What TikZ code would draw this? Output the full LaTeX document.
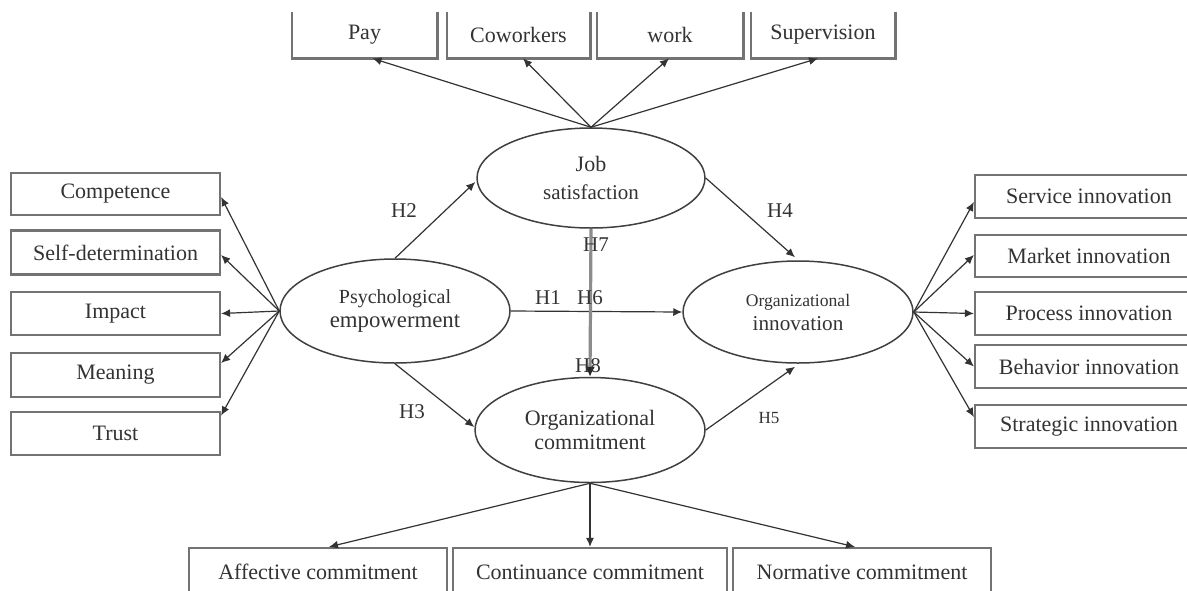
\documentclass[tikz,border=0pt]{standalone}
\usepackage{fontspec}
\setmainfont{Liberation Serif}
\usetikzlibrary{shapes.geometric,arrows.meta,calc}
\begin{document}
\begin{tikzpicture}[x=0.5pt,y=-0.5pt,
  every node/.style={text=black!80},
  box/.style={draw=black!55,line width=1.1pt,rectangle,inner sep=0pt,font=\fontsize{11}{13}\selectfont},
  openbox/.style={rectangle,inner sep=0pt,font=\fontsize{11}{13}\selectfont},
  boxline/.style={draw=black!55,line width=1.1pt},
  latent/.style={draw=black!75,line width=0.75pt,ellipse,inner sep=0pt,align=center},
  arr/.style={draw=black!80,line width=0.6pt,-{Latex[length=4.5pt,width=4pt]}},
  thickarr/.style={draw=black!45,line width=1.6pt,-{Latex[length=5pt,width=5pt,color=black!85]}},
  hyp/.style={font=\fontsize{10.5}{12}\selectfont,inner sep=0pt},
  hypsmall/.style={font=\fontsize{8.5}{10}\selectfont,inner sep=0pt},
]
\useasboundingbox (0,0) rectangle (1187,590);
\clip (0,0) rectangle (1187,590);
\fill[white] (0,0) rectangle (1187,590);

% latent variables
\node[latent,minimum width=114pt,minimum height=50pt] (job) at (591,178)
  {{\fontsize{11}{14}\selectfont Job}\\[2pt]{\fontsize{10.5}{13}\selectfont satisfaction}};
\node[latent,minimum width=115pt,minimum height=52pt] (psy) at (395,311)
  {{\fontsize{10}{12.5}\selectfont Psychological}\\{\fontsize{11.4}{12.5}\selectfont empowerment}};
\node[latent,minimum width=115pt,minimum height=51pt] (inn) at (798,312)
  {{\fontsize{8.8}{12.5}\selectfont Organizational}\\{\fontsize{10.6}{12.5}\selectfont innovation}};
\node[latent,minimum width=115pt,minimum height=52.5pt] (com) at (590,430)
  {{\fontsize{11}{13}\selectfont Organizational}\\{\fontsize{11}{13}\selectfont commitment}};

% top boxes (open at top)
\node[openbox,minimum width=72.5pt,minimum height=23pt] (pay) at (364.5,35) {Pay};
\node[openbox,minimum width=71.5pt,minimum height=23pt] (cow) at (518.5,35) {Coworkers};
\node[openbox,minimum width=73pt,minimum height=23pt] (wrk) at (670,35) {work};
\node[openbox,minimum width=72pt,minimum height=23pt] (sup) at (823,35) {Supervision};
\foreach \b in {pay,cow,wrk,sup}{
  \draw[boxline] (\b.north west) -- (\b.south west) -- (\b.south east) -- (\b.north east);
}

% left boxes
\node[box,minimum width=104.5pt,minimum height=21pt] (cmp) at (115.5,194) {Competence};
\node[box,minimum width=104.5pt,minimum height=22pt] (sdt) at (115.5,252.5) {Self-determination};
\node[box,minimum width=104.5pt,minimum height=21.5pt] (imp) at (115.5,313.5) {Impact};
\node[box,minimum width=104.5pt,minimum height=22pt] (mea) at (115.5,375) {Meaning};
\node[box,minimum width=104.5pt,minimum height=21.5pt] (tru) at (115.5,433.5) {Trust};

% right boxes
\node[box,minimum width=114pt,minimum height=21.5pt] (ser) at (1089,196.5) {Service innovation};
\node[box,minimum width=114pt,minimum height=21pt] (mar) at (1089,256) {Market innovation};
\node[box,minimum width=114pt,minimum height=21.5pt] (pro) at (1089,313.5) {Process innovation};
\node[box,minimum width=114pt,minimum height=21.5pt] (beh) at (1089,366.5) {Behavior innovation};
\node[box,minimum width=114pt,minimum height=21.5pt] (str) at (1089,426.5) {Strategic innovation};

% bottom boxes
\node[box,minimum width=129pt,minimum height=24pt] (aff) at (318,572) {Affective commitment};
\node[box,minimum width=137pt,minimum height=24pt] (con) at (590,572) {Continuance commitment};
\node[box,minimum width=129pt,minimum height=24pt] (nor) at (862,572) {Normative commitment};

% indicator arrows: job satisfaction
\draw[arr] (job.north) -- ($(pay.south)+(8,0)$);
\draw[arr] (job.north) -- ($(cow.south)+(4.5,0)$);
\draw[arr] (job.north) -- ($(wrk.south)+(-1,0)$);
\draw[arr] (job.north) -- ($(sup.south)+(-5,0)$);

% indicator arrows: psychological empowerment
\draw[arr] (psy.west) -- ($(cmp.east)+(0,3)$);
\draw[arr] (psy.west) -- ($(sdt.east)+(0,2.5)$);
\draw[arr] (psy.west) -- (imp.east);
\draw[arr] (psy.west) -- ($(mea.east)+(0,-12)$);
\draw[arr] (psy.west) -- ($(tru.east)+(0,-18)$);

% indicator arrows: organizational innovation
\draw[arr] (inn.east) -- ($(ser.west)+(0,5.5)$);
\draw[arr] (inn.east) -- ($(mar.west)+(0,-1)$);
\draw[arr] (inn.east) -- (pro.west);
\draw[arr] (inn.east) -- (beh.west);
\draw[arr] (inn.east) -- ($(str.west)+(0,-9.5)$);

% indicator arrows: organizational commitment
\draw[arr] (com.south) -- ($(aff.north)+(11,0)$);
\draw[arr] (com.south) -- (con.north);
\draw[arr] (com.south) -- ($(nor.north)+(-7,0)$);

% structural paths
\draw[arr] (psy.east) -- (inn.west);
\draw[arr] (psy.north) -- ($(job.west)+(-1,4)$);
\draw[arr] (psy.south) -- ($(com.west)+(0,-3)$);
\draw[arr] (job.east) -- ($(inn.north)+(-3,-3)$);
\draw[arr] (com.east) -- ($(inn.south)+(-3,3)$);
\draw[thickarr] (job.south) -- (com.north);

% hypothesis labels
\node[hyp] (h1) at (548,298) {H1};
\node[hyp] (h6) at (590,298) {H6};
\node[hyp] (h2) at (404,211) {H2};
\node[hyp] (h3) at (412,412) {H3};
\node[hyp] (h4) at (780,211) {H4};
\node[hypsmall] (h5) at (769,418) {H5};
\node[hyp] (h7) at (596,245) {H7};
\node[hyp] (h8) at (588,366) {H8};
\end{tikzpicture}
\end{document}
